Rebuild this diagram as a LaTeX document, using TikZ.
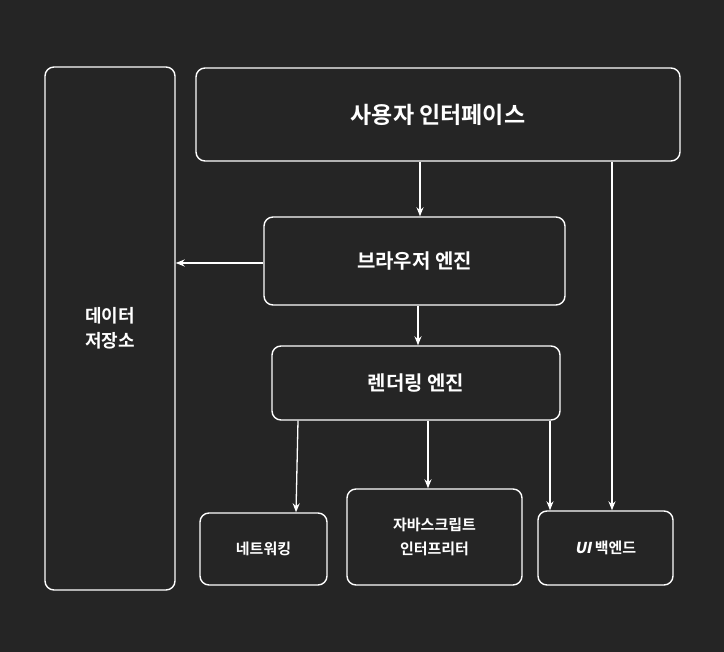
\documentclass[tikz,border=0pt]{standalone}
\usepackage{fontspec}
\setmainfont{Noto Sans CJK KR}[BoldFont={* Bold}]
\newfontfamily\slantui{Noto Sans CJK KR}[FakeSlant=0.2]
\usetikzlibrary{arrows.meta,calc}
\definecolor{bgc}{HTML}{252525}
\tikzset{
  blk/.style={draw=white,line width=1.4pt,rounded corners=9pt,text=white,align=center,inner sep=0pt},
  arr/.style={-{Stealth[length=9pt,width=7pt]},draw=white,line width=1.3pt}
}
\begin{document}
\begin{tikzpicture}[x=1pt,y=-1pt]
\fill[bgc] (0,0) rectangle (724,652);
\useasboundingbox (0,0) rectangle (724,652);

\node[blk,minimum width=130pt,minimum height=523pt,font=\bfseries\fontsize{18}{25}\selectfont] (ds) at (110,328.5){데이터\\저장소};
\node[blk,minimum width=484pt,minimum height=93pt,font=\bfseries\fontsize{23}{28}\selectfont] (ui) at (438,114.5){사용자 인터페이스};
\node[blk,minimum width=301pt,minimum height=88pt,font=\bfseries\fontsize{20}{24}\selectfont] (br) at (414.5,261){브라우저 엔진};
\node[blk,minimum width=288pt,minimum height=74pt,font=\bfseries\fontsize{20}{24}\selectfont] (re) at (416,383){렌더링 엔진};
\node[blk,minimum width=127pt,minimum height=72pt,font=\bfseries\fontsize{15}{20}\selectfont] (net) at (263.5,549){네트워킹};
\node[blk,minimum width=175pt,minimum height=96pt,font=\bfseries\fontsize{15}{24}\selectfont] (js) at (434.5,537){자바스크립트\\인터프리터};
\node[blk,minimum width=135pt,minimum height=74pt,font=\bfseries\fontsize{15}{20}\selectfont] (be) at (605.5,548){{\slantui\bfseries UI} 백엔드};

\draw[arr] (ui.south -| 420,0) -- (br.north -| 420,0);
\draw[arr] (ui.south -| 612,0) -- (be.north -| 612,0);
\draw[arr] (br.west |- 0,263) -- (ds.east |- 0,263);
\draw[arr] (br.south -| 418,0) -- (re.north -| 418,0);
\draw[arr] (re.south -| 298,0) -- (net.north -| 296,0);
\draw[arr] (re.south -| 428,0) -- (js.north -| 428,0);
\draw[arr] (re.south -| 550,0) -- (be.north -| 550,0);
\end{tikzpicture}
\end{document}
